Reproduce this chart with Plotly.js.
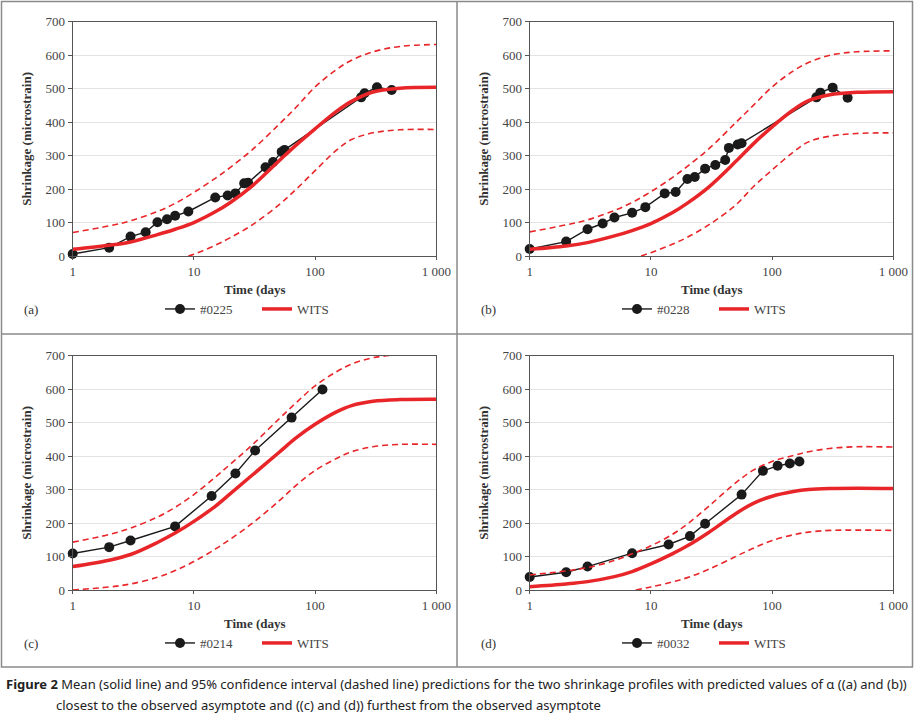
<!DOCTYPE html>
<html>
<head>
<meta charset="utf-8">
<script src="https://cdn.plot.ly/plotly-3.0.1.min.js"></script>
<style>html,body{margin:0;padding:0;background:#fff;}#chart{width:914px;height:719px;}</style>
</head>
<body>
<div id="chart"></div>
<script>
// ---------- DATA ----------
const panelLabels = ['(a)', '(b)', '(c)', '(d)'];
const sampleNames = ['#0225', '#0228', '#0214', '#0032'];
const modelName = 'WITS';
const xTickVals = [1, 10, 100, 1000];
const xTickText = ['1', '10', '100', '1 000'];
const xTitle = 'Time (days';
const yTitle = 'Shrinkage (microstrain)';
const caption1 = '<b>Figure 2</b> Mean (solid line) and 95% confidence interval (dashed line) predictions for the two shrinkage profiles with predicted values of α ((a) and (b))';
const caption2 = 'closest to the observed asymptote and ((c) and (d)) furthest from the observed asymptote';

// observed points
const daysA = [1, 2, 3, 4, 5, 6, 7, 9, 15, 19, 22, 26, 28, 39, 45, 53, 56, 240, 256, 324, 428];
const shrinkA = [6, 25, 58, 71, 101, 110, 120, 133, 175, 181, 187, 217, 219, 265, 281, 311, 317, 474, 486, 504, 496];
const daysB = [1, 2, 3, 4, 5, 7, 9, 13, 16, 20, 23, 28, 34, 41, 44, 52, 56, 232, 250, 316, 420];
const shrinkB = [21, 43, 80, 97, 115, 129, 146, 187, 191, 230, 236, 261, 272, 287, 323, 333, 337, 474, 488, 503, 473];
const daysC = [1, 2, 3, 7, 14, 22, 32, 64, 115];
const shrinkC = [109, 128, 148, 190, 281, 348, 417, 515, 599];
const daysD = [1, 2, 3, 7, 14, 21, 28, 56, 84, 111, 140, 168];
const shrinkD = [39, 53, 70, 110, 136, 161, 198, 285, 356, 371, 378, 384];

// model curves (mean and 95% bounds) read at these days
const curveDays = [1, 2, 3, 5, 7, 10, 15, 20, 30, 50, 70, 100, 150, 200, 300, 500, 1000];
const meanA  = [20, 32, 42, 64, 80, 100, 132, 160, 208, 283, 332, 380, 432, 462, 490, 501, 504];
const upperA = [70, 90, 105, 133, 157, 190, 232, 265, 316, 392, 445, 505, 557, 585, 610, 626, 632];
const lowerDaysA = [9, 10, 15, 20, 30, 50, 70, 100, 150, 200, 300, 500, 1000];
const lowerA = [0, 5, 32, 55, 92, 152, 200, 255, 316, 348, 368, 377, 378];

const meanB  = [20, 30, 40, 60, 76, 97, 129, 158, 206, 282, 335, 386, 437, 464, 482, 489, 491];
const upperB = [72, 93, 108, 136, 160, 192, 234, 268, 320, 398, 450, 505, 553, 578, 600, 610, 613];
const lowerDaysB = [8.3, 10, 15, 20, 30, 50, 70, 100, 150, 200, 300, 500, 1000];
const lowerB = [0, 10, 35, 56, 93, 152, 207, 257, 311, 341, 358, 366, 368];

const meanC  = [70, 89, 106, 142, 170, 205, 250, 288, 342, 410, 455, 495, 532, 551, 564, 569, 570];
const upperC = [143, 166, 185, 218, 247, 285, 337, 376, 432, 510, 560, 610, 652, 675, 694, 703, 706];
const lowerC = [0, 9, 18, 38, 58, 85, 122, 152, 198, 265, 313, 357, 393, 413, 428, 435, 435];

const meanD  = [10, 18, 25, 40, 55, 78, 108, 132, 172, 228, 259, 280, 294, 300, 303, 304, 303];
const upperD = [45, 57, 67, 88, 108, 132, 166, 197, 250, 320, 358, 384, 402, 413, 423, 428, 427];
const lowerDaysD = [7.5, 10, 15, 20, 30, 50, 70, 100, 150, 200, 300, 500, 1000];
const lowerD = [0, 9, 24, 37, 62, 100, 125, 148, 165, 173, 178, 179, 178];

// ---------- BUILD ----------
const W = 914, H = 719;
const px = v => v / W;
const py = v => 1 - v / H;

const panels = [
  {obsX: daysA, obsY: shrinkA, mean: meanA, upX: curveDays, up: upperA, loX: lowerDaysA, lo: lowerA},
  {obsX: daysB, obsY: shrinkB, mean: meanB, upX: curveDays, up: upperB, loX: lowerDaysB, lo: lowerB},
  {obsX: daysC, obsY: shrinkC, mean: meanC, upX: curveDays, up: upperC, loX: curveDays, lo: lowerC},
  {obsX: daysD, obsY: shrinkD, mean: meanD, upX: curveDays, up: upperD, loX: lowerDaysD, lo: lowerD}
];

// pixel geometry of each plot area: [left, right, top, bottom]
const boxes = [
  [72.7, 436.3, 21.7, 256],
  [529.7, 893.3, 21.7, 256],
  [72.7, 436.3, 355.7, 590],
  [529.7, 893.3, 355.7, 590]
];

const RED = '#e8262a';
const serif = 'Liberation Serif, Times New Roman, serif';
const traces = [];
const layout = {
  width: W, height: H,
  margin: {l: 0, r: 0, t: 0, b: 0},
  paper_bgcolor: '#fff', plot_bgcolor: '#fff',
  showlegend: true,
  font: {family: serif, size: 13, color: '#444'},
  annotations: [], shapes: []
};

panels.forEach((p, i) => {
  const n = i + 1;
  const xa = n === 1 ? 'x' : 'x' + n;
  const ya = n === 1 ? 'y' : 'y' + n;
  const lg = n === 1 ? 'legend' : 'legend' + n;
  const b = boxes[i];

  traces.push({
    x: p.obsX, y: p.obsY, xaxis: xa, yaxis: ya, legend: lg,
    type: 'scatter', mode: 'lines+markers', name: sampleNames[i],
    line: {color: '#1a1a1a', width: 1.4},
    marker: {color: '#1a1a1a', size: 10, symbol: 'circle'},
    cliponaxis: false
  });
  traces.push({
    x: curveDays, y: p.mean, xaxis: xa, yaxis: ya, legend: lg,
    type: 'scatter', mode: 'lines', name: modelName,
    line: {color: RED, width: 3.5, shape: 'spline', smoothing: 1}
  });
  traces.push({
    x: p.upX, y: p.up, xaxis: xa, yaxis: ya, legend: lg, showlegend: false,
    type: 'scatter', mode: 'lines', name: modelName + ' upper',
    line: {color: RED, width: 1.6, dash: '6px,4px', shape: 'spline', smoothing: 1}
  });
  traces.push({
    x: p.loX, y: p.lo, xaxis: xa, yaxis: ya, legend: lg, showlegend: false,
    type: 'scatter', mode: 'lines', name: modelName + ' lower',
    line: {color: RED, width: 1.6, dash: '6px,4px', shape: 'spline', smoothing: 1}
  });

  layout['xaxis' + (n === 1 ? '' : n)] = {
    type: 'log', range: [0, 3], domain: [px(b[0]), px(b[1])],
    anchor: ya, tickvals: xTickVals, ticktext: xTickText,
    ticks: 'outside', ticklen: 3, tickcolor: '#555', tickwidth: 1,
    showline: true, linecolor: '#555', linewidth: 1, mirror: true,
    showgrid: false, zeroline: false,
    tickfont: {family: serif, size: 13, color: '#444'}
  };
  layout['yaxis' + (n === 1 ? '' : n)] = {
    range: [0, 700], dtick: 100, domain: [py(b[3]), py(b[2])],
    anchor: xa, ticks: 'outside', ticklen: 4, tickcolor: '#555', tickwidth: 1,
    showline: true, linecolor: '#555', linewidth: 1, mirror: true,
    showgrid: true, gridcolor: '#e3e3e3', gridwidth: 1, zeroline: false,
    tickfont: {family: serif, size: 13, color: '#444'}
  };

  const offX = i % 2 === 1 ? 457 : 0;
  const legY = i < 2 ? 309 : 643;
  layout[lg] = {
    orientation: 'h', x: px(160 + offX), y: py(legY),
    xanchor: 'left', yanchor: 'middle', xref: 'paper', yref: 'paper',
    bgcolor: 'rgba(0,0,0,0)', borderwidth: 0,
    entrywidth: 52, entrywidthmode: 'pixels',
    font: {family: serif, size: 13, color: '#444'}
  };

  layout.annotations.push({
    text: '<b>' + yTitle + '</b>', textangle: -90, showarrow: false,
    xref: 'paper', yref: 'paper', x: px(27 + offX), y: py(b[2] + 117),
    xanchor: 'center', yanchor: 'middle',
    font: {family: serif, size: 13, color: '#333'}
  });
  layout.annotations.push({
    text: '<b>' + xTitle + '</b>', showarrow: false,
    xref: 'paper', yref: 'paper', x: px(255 + offX), y: py(b[3] + 33),
    xanchor: 'center', yanchor: 'middle',
    font: {family: serif, size: 13, color: '#333'}
  });
  layout.annotations.push({
    text: panelLabels[i], showarrow: false,
    xref: 'paper', yref: 'paper', x: px(22 + offX), y: py(legY),
    xanchor: 'left', yanchor: 'middle',
    font: {family: serif, size: 13, color: '#333'}
  });
});

// panel frames
const frame = {color: '#8a8a8a', width: 1.5};
layout.shapes.push({type: 'rect', xref: 'paper', yref: 'paper', x0: px(1.5), x1: px(912.5), y0: py(1.5), y1: py(667), line: frame});
layout.shapes.push({type: 'line', xref: 'paper', yref: 'paper', x0: px(457), x1: px(457), y0: py(1.5), y1: py(667), line: frame});
layout.shapes.push({type: 'line', xref: 'paper', yref: 'paper', x0: px(1.5), x1: px(912.5), y0: py(334), y1: py(334), line: frame});

// caption
const capFont = {family: 'Noto Sans, Open Sans, sans-serif', size: 12.4, color: '#222'};
layout.annotations.push({text: caption1, showarrow: false, xref: 'paper', yref: 'paper', x: px(4), y: py(684), xanchor: 'left', yanchor: 'middle', align: 'left', font: capFont});
layout.annotations.push({text: caption2, showarrow: false, xref: 'paper', yref: 'paper', x: px(54), y: py(705), xanchor: 'left', yanchor: 'middle', align: 'left', font: capFont});

Plotly.newPlot('chart', traces, layout, {staticPlot: true, displayModeBar: false}).then(gd => {
  // fit the caption's first line to the printed caption width
  const texts = Array.from(gd.querySelectorAll('text.annotation-text'));
  const t1 = texts.find(t => t.textContent.indexOf('Figure 2') === 0);
  const t2 = texts.find(t => t.textContent.indexOf('closest') === 0);
  if (t1 && t2) {
    const w1 = t1.getComputedTextLength();
    const w2 = t2.getComputedTextLength();
    const k = Math.max(0.95, Math.min(1.05, 901 / w1));
    [[t1, w1], [t2, w2]].forEach(([t, w]) => {
      t.setAttribute('textLength', (w * k).toFixed(1));
      t.setAttribute('lengthAdjust', 'spacingAndGlyphs');
    });
  }
});
</script>
</body>
</html>
